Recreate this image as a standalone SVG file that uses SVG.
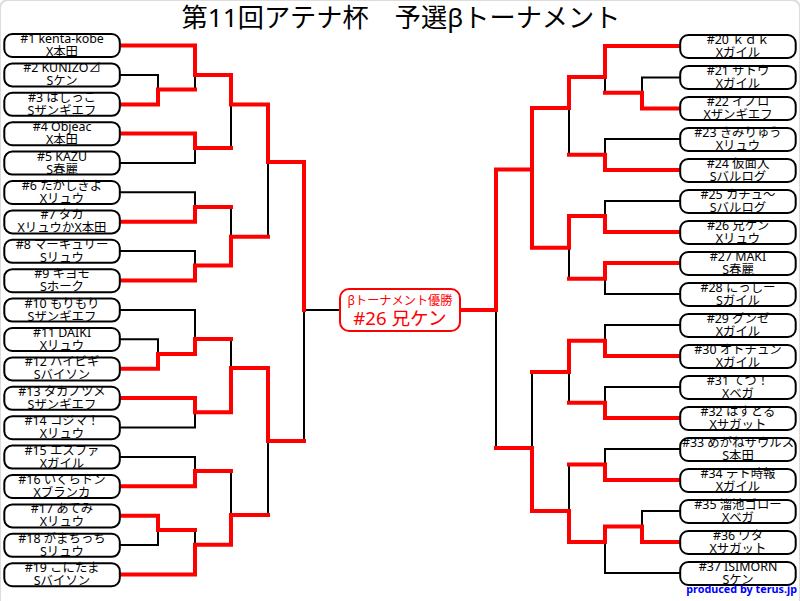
<svg xmlns="http://www.w3.org/2000/svg" width="800" height="601" viewBox="0 0 800 601">
<style>
text{font-family:"Noto Sans","Noto Sans CJK JP",sans-serif;text-anchor:middle;fill:#000}
.n rect{fill:#fff;stroke:#000;stroke-width:2;height:23px;width:115.5px}
.n text{font-size:12.4px}
#connectors path{fill:none;stroke-linejoin:miter;stroke-linecap:square}
.k{stroke:#000;stroke-width:2}
.r{stroke:#f00;stroke-width:4}
</style>
<rect x="0" y="0" width="800" height="640" rx="8" fill="#fff" stroke="#ddd" stroke-width="2"/>
<text x="401" y="27" font-size="26.2">第11回アテナ杯　予選βトーナメント</text>
<g id="connectors">
<path class="k" d="M120 75H158V89.5M195 75V89.5M120 163H195V148M231 104.5V148M268 162V236.7M120 192.3H195V207M231 207V236.7M120 251H195V265.6M120 310H195V339M120 339.3H158V354M231 339V368M120 427.5H195V412.3M268 441V515M120 457H195V471M231 471V515M120 545H158V530M195 530V544.7M304 310V441M304 310H340"/>
<path class="k" d="M680 77.5H642V92.7M605 77V92.7M532 108V169.5M569 108V154.7M680 139H605V154.7M680 201H605V216M569 247.7V278.7M605 278.7V294H680M680 325H605V340.7M532 372V448M569 372V402.7M680 387H605V402.7M680 449H605V464.5M569 464.5V511M680 511H642V526.5M605 542V573H680M496 310V448"/>
<path class="r" d="M120 45.5H195V75H231V104.5H268V162H304V310M120 104.5H158V89.5H195M120 133.5H195V148H231M120 221.7H195V207H231M120 280.5H195V265.6H231V236.7H268M120 368.7H158V354H195V339H231M120 398H195V412.3H231V368H268V441H304M120 486.3H195V471H231M120 515.7H158V530H195M120 574.5H195V544.7H231V515H268"/>
<path class="r" d="M680 46H605V77H569V108H532V169.5H496V310H460M680 108.5H642V92.7H605M680 170H605V154.7H569M532 169.5V247.7H569V216H605V232H680M569 278.7H605V263H680M680 356H605V340.7H569V372H532M569 402.7H605V418H680M532 448V511H569M496 448H532M680 480H605V464.5H569M569 511V542H605V526.5H642V542H680"/>
</g>
<g id="n1" class="n"><rect x="4.3" y="34" rx="8"/><text x="62" y="43">#1 kenta-kobe</text><text x="62" y="56">X本田</text></g>
<g id="n2" class="n"><rect x="4.3" y="63.4" rx="8"/><text x="62" y="72.4">#2 KUNIZO⊿</text><text x="62" y="85.4">Sケン</text></g>
<g id="n3" class="n"><rect x="4.3" y="92.8" rx="8"/><text x="62" y="101.8">#3 はしっこ</text><text x="62" y="114.8">Sザンギエフ</text></g>
<g id="n4" class="n"><rect x="4.3" y="122.2" rx="8"/><text x="62" y="131.2">#4 Objeac</text><text x="62" y="144.2">X本田</text></g>
<g id="n5" class="n"><rect x="4.3" y="151.6" rx="8"/><text x="62" y="160.6">#5 KAZU</text><text x="62" y="173.6">S春麗</text></g>
<g id="n6" class="n"><rect x="4.3" y="181" rx="8"/><text x="62" y="190">#6 たかしきよ</text><text x="62" y="203">Xリュウ</text></g>
<g id="n7" class="n"><rect x="4.3" y="210.4" rx="8"/><text x="62" y="219.4">#7 タカ</text><text x="62" y="232.4">XリュウかX本田</text></g>
<g id="n8" class="n"><rect x="4.3" y="239.8" rx="8"/><text x="62" y="248.8">#8 マーキュリー</text><text x="62" y="261.8">Sリュウ</text></g>
<g id="n9" class="n"><rect x="4.3" y="269.2" rx="8"/><text x="62" y="278.2">#9 キヨモ</text><text x="62" y="291.2">Sホーク</text></g>
<g id="n10" class="n"><rect x="4.3" y="298.6" rx="8"/><text x="62" y="307.6">#10 もりもり</text><text x="62" y="320.6">Sザンギエフ</text></g>
<g id="n11" class="n"><rect x="4.3" y="328" rx="8"/><text x="62" y="337">#11 DAIKI</text><text x="62" y="350">Xリュウ</text></g>
<g id="n12" class="n"><rect x="4.3" y="357.4" rx="8"/><text x="62" y="366.4">#12 ハイビギ</text><text x="62" y="379.4">Sバイソン</text></g>
<g id="n13" class="n"><rect x="4.3" y="386.8" rx="8"/><text x="62" y="395.8">#13 タカノツメ</text><text x="62" y="408.8">Sザンギエフ</text></g>
<g id="n14" class="n"><rect x="4.3" y="416.2" rx="8"/><text x="62" y="425.2">#14 コジマ！</text><text x="62" y="438.2">Xリュウ</text></g>
<g id="n15" class="n"><rect x="4.3" y="445.6" rx="8"/><text x="62" y="454.6">#15 エスファ</text><text x="62" y="467.6">Xガイル</text></g>
<g id="n16" class="n"><rect x="4.3" y="475" rx="8"/><text x="62" y="484">#16 いくらドン</text><text x="62" y="497">Xブランカ</text></g>
<g id="n17" class="n"><rect x="4.3" y="504.4" rx="8"/><text x="62" y="513.4">#17 あてみ</text><text x="62" y="526.4">Xリュウ</text></g>
<g id="n18" class="n"><rect x="4.3" y="533.8" rx="8"/><text x="62" y="542.8">#18 がまちっち</text><text x="62" y="555.8">Sリュウ</text></g>
<g id="n19" class="n"><rect x="4.3" y="563.2" rx="8"/><text x="62" y="572.2">#19 こにたま</text><text x="62" y="585.2">Sバイソン</text></g>
<g id="n20" class="n"><rect x="680.2" y="35" rx="8"/><text x="738" y="43.8">#20 ｋｄｋ</text><text x="738" y="56.8">Xガイル</text></g>
<g id="n21" class="n"><rect x="680.2" y="66" rx="8"/><text x="738" y="74.8">#21 サトウ</text><text x="738" y="87.8">Xガイル</text></g>
<g id="n22" class="n"><rect x="680.2" y="97" rx="8"/><text x="738" y="105.8">#22 イノロ</text><text x="738" y="118.8">Xザンギエフ</text></g>
<g id="n23" class="n"><rect x="680.2" y="128" rx="8"/><text x="738" y="136.8">#23 きみりゅう</text><text x="738" y="149.8">Xリュウ</text></g>
<g id="n24" class="n"><rect x="680.2" y="159" rx="8"/><text x="738" y="167.8">#24 仮面人</text><text x="738" y="180.8">Sバルログ</text></g>
<g id="n25" class="n"><rect x="680.2" y="190" rx="8"/><text x="738" y="198.8">#25 カチュ～</text><text x="738" y="211.8">Sバルログ</text></g>
<g id="n26" class="n"><rect x="680.2" y="221" rx="8"/><text x="738" y="229.8">#26 兄ケン</text><text x="738" y="242.8">Xリュウ</text></g>
<g id="n27" class="n"><rect x="680.2" y="252" rx="8"/><text x="738" y="260.8">#27 MAKI</text><text x="738" y="273.8">S春麗</text></g>
<g id="n28" class="n"><rect x="680.2" y="283" rx="8"/><text x="738" y="291.8">#28 にっしー</text><text x="738" y="304.8">Sガイル</text></g>
<g id="n29" class="n"><rect x="680.2" y="314" rx="8"/><text x="738" y="322.8">#29 グンゼ</text><text x="738" y="335.8">Xガイル</text></g>
<g id="n30" class="n"><rect x="680.2" y="345" rx="8"/><text x="738" y="353.8">#30 オトチュン</text><text x="738" y="366.8">Xガイル</text></g>
<g id="n31" class="n"><rect x="680.2" y="376" rx="8"/><text x="738" y="384.8">#31 てつ！</text><text x="738" y="397.8">Xベガ</text></g>
<g id="n32" class="n"><rect x="680.2" y="407" rx="8"/><text x="738" y="415.8">#32 はすとる</text><text x="738" y="428.8">Xサガット</text></g>
<g id="n33" class="n"><rect x="680.2" y="438" rx="8"/><text x="738" y="446.8">#33 めがねサウルス</text><text x="738" y="459.8">S本田</text></g>
<g id="n34" class="n"><rect x="680.2" y="469" rx="8"/><text x="738" y="477.8">#34 テト時報</text><text x="738" y="490.8">Xガイル</text></g>
<g id="n35" class="n"><rect x="680.2" y="500" rx="8"/><text x="738" y="508.8">#35 溜池ゴロー</text><text x="738" y="521.8">Xベガ</text></g>
<g id="n36" class="n"><rect x="680.2" y="531" rx="8"/><text x="738" y="539.8">#36 ワタ</text><text x="738" y="552.8">Xサガット</text></g>
<g id="n37" class="n"><rect x="680.2" y="562" rx="8"/><text x="738" y="570.8">#37 ISIMORN</text><text x="738" y="583.8">Sケン</text></g>
<g id="winner"><rect x="340" y="289" width="120" height="42" rx="9" fill="#fff" stroke="#f00" stroke-width="2"/><text x="400" y="305" font-size="12.2" style="fill:#f00">βトーナメント優勝</text><text x="400" y="325" font-size="18.6" style="fill:#f00">#26 兄ケン</text></g>
<text x="797" y="593" font-size="10.8" font-weight="bold" style="fill:#00f;text-anchor:end">produced by terus.jp</text>
</svg>
